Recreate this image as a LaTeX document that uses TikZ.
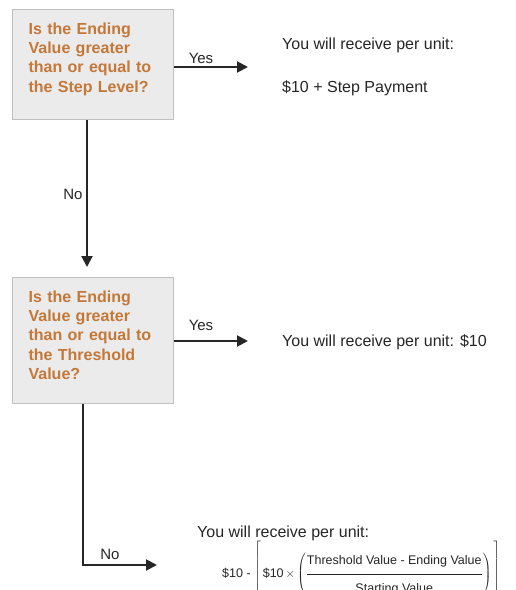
\documentclass[tikz,border=0pt]{standalone}
\usepackage{fontspec}
\setmainfont{Liberation Sans}
\usetikzlibrary{positioning,arrows.meta}

\definecolor{qtext}{RGB}{196,120,56}
\definecolor{qfill}{RGB}{235,235,235}
\definecolor{qline}{RGB}{192,192,192}
\definecolor{flow}{RGB}{38,38,38}

\begin{document}
\begin{tikzpicture} [x=1pt, y=-1pt,
	question/.style={draw=qline, fill=qfill, line width=1.2pt, anchor=north west,
		text width=129pt, inner xsep=16pt, inner ysep=13pt, align=left,
		text height=11.5pt, text=qtext, font=\fontsize{16}{19.3}\selectfont\bfseries},
	answer/.style={anchor=base west, inner sep=0pt, text=flow, font=\fontsize{16}{19}\selectfont},
	choice/.style={anchor=base, inner sep=0pt, text=flow, font=\fontsize{15}{18}\selectfont},
	flowline/.style={draw=flow, line width=2pt, -{Triangle[length=11pt, width=11pt]}}]
	
	\path[use as bounding box, fill=white] (0,0) rectangle (516,590);
	
	\node[question, text depth=72.5pt] (step) at (12,9) {Is the Ending\\Value greater\\than or equal to\\the Step Level?};
	\node[question, text depth=88.5pt] (threshold) at (12,277) {Is the Ending\\Value greater\\than or equal to\\the Threshold\\Value?};
	
	\node[answer] (stepans) at (282,49) {You will receive per unit:};
	\node[answer] (steppay) at (282,92) {\$10 + Step Payment};
	\node[answer] (thresans) at (282,346) {You will receive per unit: \$10};
	\node[answer] (lowans) at (197,537) {You will receive per unit:};
	\node[anchor=west, inner sep=0pt, text=flow, font=\fontsize{12.5}{14}\selectfont] (lowpay) at (222,574)
		{\$10 - $\left[\vrule height 28pt depth 30pt width 0pt\,\mbox{\$10}\,{\times}
		\left(\displaystyle\frac{\mbox{\rule[-8pt]{0pt}{0pt}Threshold Value - Ending Value}}{\mbox{\rule{0pt}{17pt}Starting Value}}\right)\,\right]$};
	
	\coordinate (yes1end) at (248,67);
	\coordinate (no1end) at (87,267);
	\coordinate (yes2end) at (248,341);
	\coordinate (no2bend) at (83,565);
	\coordinate (no2end) at (157,565);
	
	\draw[flowline] (step.east |- yes1end) -- (yes1end);
	\draw[flowline] (step.south -| no1end) -- (no1end);
	\draw[flowline] (threshold.east |- yes2end) -- (yes2end);
	\draw[flowline] (threshold.south -| no2bend) -- (no2bend) -- (no2end);
	
	\node[choice] (yes1) at (201,63) {Yes};
	\node[choice] (no1) at (73,199.5) {No};
	\node[choice] (yes2) at (201,330) {Yes};
	\node[choice] (no2) at (110,559) {No};
\end{tikzpicture}
\end{document}
